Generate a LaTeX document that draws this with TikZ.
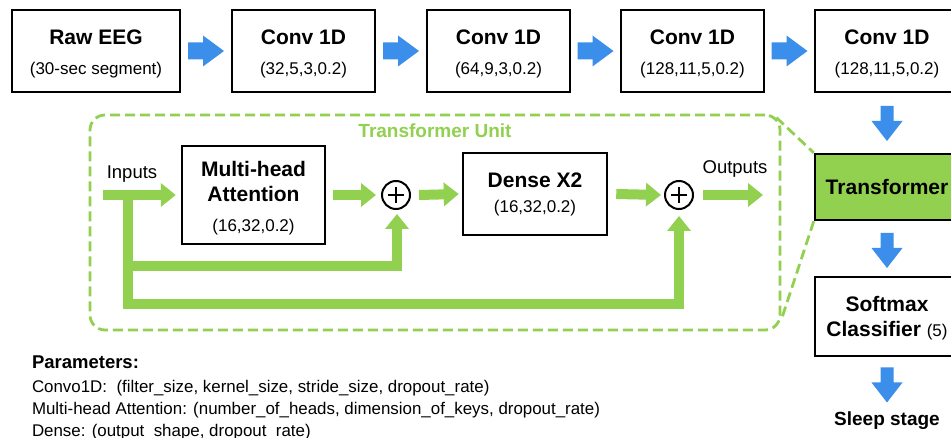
\documentclass[tikz,border=0pt]{standalone}
\usepackage{fontspec}
\setmainfont{Liberation Sans}
\usetikzlibrary{arrows.meta,calc}
\definecolor{ablue}{HTML}{3B8EEA}
\definecolor{lgreen}{HTML}{92D050}
\newcommand{\ttl}{\fontsize{21}{24}\selectfont\bfseries}
\newcommand{\sbt}{\fontsize{17}{20}\selectfont\mdseries}
\newcommand{\lbl}{\fontsize{18.5}{22}\selectfont}
\newcommand{\prm}{\fontsize{16.9}{20}\selectfont}
\tikzset{
  box/.style={draw=black, line width=2.5pt, fill=white, inner sep=0pt},
  txt/.style={anchor=base, inner sep=0pt, outer sep=0pt},
  ptxt/.style={anchor=base west, inner sep=0pt, outer sep=0pt},
  garrow/.style={draw=lgreen, line width=10pt, line join=miter, -{Triangle[length=15pt,width=23pt]}},
  gline/.style={draw=lgreen, line width=10pt},
  opl/.style={draw=black, circle, line width=2pt, minimum size=28pt, inner sep=0pt, fill=white},
  dashframe/.style={draw=lgreen, line width=2.8pt, dash pattern=on 10pt off 5pt},
  pics/harrow/.style={code={\fill[ablue] (-18,-8.5) -- (-3,-8.5) -- (-3,-15.5) -- (18,0) -- (-3,15.5) -- (-3,8.5) -- (-18,8.5) -- cycle;}},
  pics/varrow/.style={code={\fill[ablue] (-6.5,-17.5) -- (6.5,-17.5) -- (6.5,-2.5) -- (15.5,-2.5) -- (0,17.5) -- (-15.5,-2.5) -- (-6.5,-2.5) -- cycle;}},
}
\begin{document}
\begin{tikzpicture}[x=1pt, y=-1pt]
\useasboundingbox (0,0) rectangle (951,438);
\fill[white] (0,0) rectangle (951,438);

% top row boxes
\node[box, minimum width=168pt, minimum height=82pt] (raw) at (96,51) {};
\node[box, minimum width=143pt, minimum height=82pt] (c1) at (303.5,51) {};
\node[box, minimum width=143pt, minimum height=82pt] (c2) at (498.5,51) {};
\node[box, minimum width=143pt, minimum height=82pt] (c3) at (692.5,51) {};
\node[box, minimum width=144pt, minimum height=82pt] (c4) at (887,51) {};

\node[txt] (rawt) at (96,45) {\ttl Raw EEG};
\node[txt] (raws) at (96,74.5) {\sbt (30-sec segment)};
\node[txt] (c1t) at (303.5,45) {\ttl Conv 1D};
\node[txt] (c1s) at (303.5,74.5) {\sbt (32,5,3,0.2)};
\node[txt] (c2t) at (498.5,45) {\ttl Conv 1D};
\node[txt] (c2s) at (498.5,74.5) {\sbt (64,9,3,0.2)};
\node[txt] (c3t) at (692.5,45) {\ttl Conv 1D};
\node[txt] (c3s) at (692.5,74.5) {\sbt (128,11,5,0.2)};
\node[txt] (c4t) at (887,45) {\ttl Conv 1D};
\node[txt] (c4s) at (887,74.5) {\sbt (128,11,5,0.2)};

% blue arrows
\pic at ($(raw.east)!0.5!(c1.west)$) {harrow};
\pic at ($(c1.east)!0.5!(c2.west)$) {harrow};
\pic at ($(c2.east)!0.5!(c3.west)$) {harrow};
\pic at ($(c3.east)!0.5!(c4.west)$) {harrow};

% right column
\node[box, fill=lgreen, minimum width=144pt, minimum height=66pt] (trans) at (887,187) {};
\node[txt] (transt) at (887,195) {\ttl Transformer};
\node[box, minimum width=144pt, minimum height=79pt] (soft) at (887,316.5) {};
\node[txt] (softa) at (887,311.7) {\ttl Softmax};
\node[txt] (softb) at (887,337) {\ttl Classifier \sbt(5)};
\node[txt] (sleep) at (887,425.7) {\fontsize{19}{22}\selectfont\bfseries Sleep stage};

\pic at ($(c4.south)!0.5!(trans.north)+(0,0.5)$) {varrow};
\pic at ($(trans.south)!0.5!(soft.north)+(0,2)$) {varrow};
\pic at (887,385) {varrow};

% transformer unit frame
\node[dashframe, rounded corners=15pt, minimum width=690pt, minimum height=215pt, inner sep=0pt] (tu) at (435,222.5) {};
\node[txt, text=lgreen] (tul) at (435,138) {\fontsize{19}{22}\selectfont\bfseries Transformer Unit};
\coordinate (zt) at ($(tu.north east)+(-5,4)$);
\coordinate (zb) at ($(tu.south east)+(1,-15)$);
\draw[dashframe] (zt) -- (trans.north west);
\draw[dashframe] (trans.south west) -- (zb);

% inner blocks
\node[box, minimum width=143pt, minimum height=98pt] (mha) at (253.5,195) {};
\node[txt] (mhaa) at (253.5,176.7) {\ttl Multi-head};
\node[txt] (mhab) at (253.5,201.7) {\ttl Attention};
\node[txt] (mhac) at (253.5,231.7) {\sbt (16,32,0.2)};
\node[box, minimum width=144pt, minimum height=82pt] (dense) at (535,194) {};
\node[txt] (densea) at (535,188) {\ttl Dense X2};
\node[txt] (denseb) at (535,213) {\sbt (16,32,0.2)};

\node[opl] (op1) at (396,195) {};
\node[opl] (op2) at (679,195) {};
\draw[line width=2.2pt] ($(op1.center)+(-8,0)$) -- ($(op1.center)+(8,0)$) ($(op1.center)+(0,-8)$) -- ($(op1.center)+(0,8)$);
\draw[line width=2.2pt] ($(op2.center)+(-8,0)$) -- ($(op2.center)+(8,0)$) ($(op2.center)+(0,-8)$) -- ($(op2.center)+(0,8)$);

\node[txt] (inl) at (132,178.3) {\lbl Inputs};
\node[txt] (outl) at (735,174) {\lbl Outputs};

\coordinate (in) at (103,195);
\coordinate (br) at (128,195);
\coordinate (s1) at (128,266);
\coordinate (s2) at (128,304.3);
\coordinate (out) at (763,195);

\draw[gline] (br) -- (128,309.3);
\draw[garrow] (s1) -| ($(op1.south)+(1,4)$);
\draw[garrow] (s2) -| ($(op2.south)+(0,6)$);
\draw[garrow] (in) -- ($(mha.west)+(-5,0)$);
\draw[garrow] ($(mha.east)+(7,0)$) -- ($(op1.west)+(-5,0)$);
\draw[garrow] ($(op1.east)+(8,0)$) -- ($(dense.west)+(-3,0)$);
\draw[garrow] ($(dense.east)+(8,0)$) -- ($(op2.west)+(-3,0)$);
\draw[garrow] ($(op2.east)+(9,0)$) -- (out);

% parameters
\node[ptxt] (p0) at (32,368.5) {\fontsize{18.5}{22}\selectfont\bfseries Parameters:};
\node[ptxt] (p1) at (32,392) {\prm Convo1D:\ \ (filter\_size, kernel\_size, stride\_size, dropout\_rate)};
\node[ptxt] (p2) at (32,414.5) {\prm Multi-head Attention: (number\_of\_heads, dimension\_of\_keys, dropout\_rate)};
\node[ptxt] (p3) at (32,436.5) {\prm Dense: (output\_shape, dropout\_rate)};
\end{tikzpicture}
\end{document}
